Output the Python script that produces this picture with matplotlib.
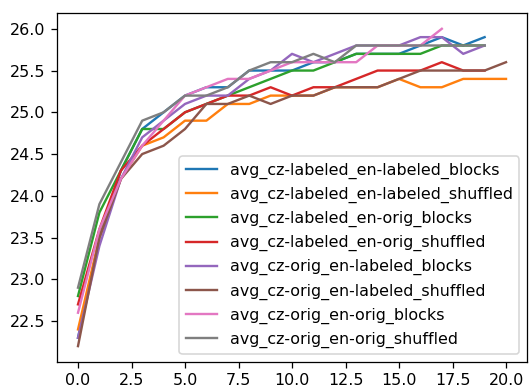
import matplotlib
matplotlib.use('Agg')
import matplotlib.pyplot as plt

labels = [
    'avg_cz-labeled_en-labeled_blocks',
    'avg_cz-labeled_en-labeled_shuffled',
    'avg_cz-labeled_en-orig_blocks',
    'avg_cz-labeled_en-orig_shuffled',
    'avg_cz-orig_en-labeled_blocks',
    'avg_cz-orig_en-labeled_shuffled',
    'avg_cz-orig_en-orig_blocks',
    'avg_cz-orig_en-orig_shuffled',
]

# values per epoch
lab_lab_blocks = [22.3, 23.5, 24.3, 24.8, 25.0, 25.2, 25.3, 25.3, 25.5, 25.5,
                  25.5, 25.6, 25.6, 25.7, 25.7, 25.7, 25.8, 25.9, 25.8, 25.9]
lab_lab_shuffled = [22.4, 23.5, 24.2, 24.6, 24.7, 24.9, 24.9, 25.1, 25.1, 25.2,
                    25.2, 25.2, 25.3, 25.3, 25.3, 25.4, 25.3, 25.3, 25.4, 25.4, 25.4]
lab_orig_blocks = [22.8, 23.8, 24.3, 24.8, 24.8, 25.0, 25.1, 25.2, 25.3, 25.4,
                   25.5, 25.5, 25.6, 25.7, 25.7, 25.7, 25.7, 25.8, 25.8, 25.8]
lab_orig_shuffled = [22.7, 23.6, 24.3, 24.6, 24.8, 25.0, 25.1, 25.2, 25.2, 25.3,
                     25.2, 25.3, 25.3, 25.4, 25.5, 25.5, 25.5, 25.6, 25.5, 25.5]
orig_lab_blocks = [22.3, 23.4, 24.2, 24.7, 24.9, 25.1, 25.2, 25.2, 25.4, 25.5,
                   25.7, 25.6, 25.7, 25.8, 25.8, 25.8, 25.9, 25.9, 25.7, 25.8]
orig_lab_shuffled = [22.2, 23.5, 24.2, 24.5, 24.6, 24.8, 25.1, 25.1, 25.2, 25.1,
                     25.2, 25.2, 25.3, 25.3, 25.3, 25.4, 25.5, 25.5, 25.5, 25.5, 25.6]
orig_orig_blocks = [22.6, 23.6, 24.2, 24.6, 24.9, 25.2, 25.3, 25.4, 25.4, 25.5,
                    25.6, 25.6, 25.6, 25.6, 25.8, 25.8, 25.8, 26.0]
orig_orig_shuffled = [22.9, 23.9, 24.4, 24.9, 25.0, 25.2, 25.2, 25.3, 25.5, 25.6,
                      25.6, 25.7, 25.6, 25.8, 25.8, 25.8, 25.8, 25.8, 25.8, 25.8]

series = [lab_lab_blocks, lab_lab_shuffled, lab_orig_blocks, lab_orig_shuffled,
          orig_lab_blocks, orig_lab_shuffled, orig_orig_blocks, orig_orig_shuffled]

dpi = 114
fig = plt.figure(figsize=(529 / dpi, 387 / dpi), dpi=dpi)
ax = fig.add_axes([0.107, 0.0646, 0.890, 0.902])
for vals, lab in zip(series, labels):
    ax.plot(range(len(vals)), vals, label=lab)
ax.legend(loc='lower right')

fig.savefig('out.png', dpi=dpi)
